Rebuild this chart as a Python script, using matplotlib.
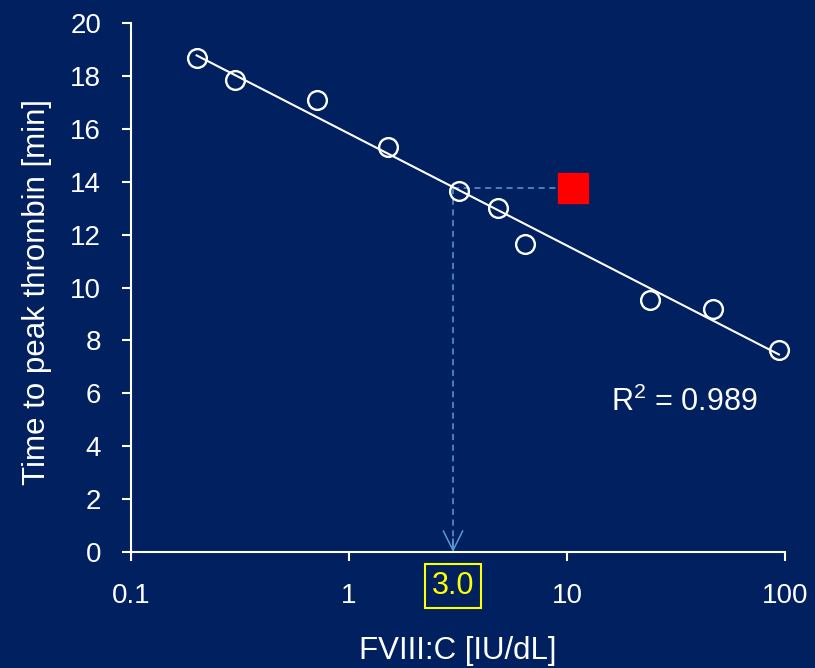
import numpy as np
import matplotlib
matplotlib.use("Agg")
import matplotlib.pyplot as plt

plt.rcParams['font.family'] = ['Liberation Sans', 'DejaVu Sans']
plt.rcParams['mathtext.fontset'] = 'custom'
plt.rcParams['mathtext.rm'] = 'Liberation Sans'

# Calibration series: FVIII:C concentration vs. time to peak thrombin
fviii = [0.20, 0.30, 0.71, 1.51, 3.2, 4.8, 6.4, 24.0, 46.8, 93.8]
ttp = [18.67, 17.84, 17.08, 15.30, 13.64, 12.99, 11.63, 9.51, 9.20, 7.65]

# Patient sample and its read-back concentration
sample_ttp = 13.75
sample_marker_x = 10.7
sample_result = 3.0
r2_text = r"R$^\mathrm{2}$ = 0.989"

bg = '#002060'
fg = 'white'
dash_col = '#5B9BD5'

fig = plt.figure(figsize=(8.15, 6.68), dpi=100, facecolor=bg)
ax = fig.add_axes([131 / 815, 1 - 552 / 668, (785 - 131) / 815, (552 - 23) / 668])
ax.set_facecolor(bg)

# Log-linear regression line across the calibration range
lx = np.log10(fviii)
slope, intercept = np.polyfit(lx, ttp, 1)
xs = np.array([min(fviii), max(fviii)])
ax.plot(xs, slope * np.log10(xs) + intercept, color=fg, lw=1.5, zorder=2,
        clip_on=False)

ax.plot(fviii, ttp, 'o', ms=13.5, mfc='none', mec=fg, mew=1.7, zorder=3,
        clip_on=False)

# Read-back: horizontal from sample to curve, then down to the x axis
ax.plot([sample_result, sample_marker_x], [sample_ttp, sample_ttp],
        ls=(0, (4, 3)), color=dash_col, lw=1.1, zorder=1)
ax.plot([sample_result, sample_result], [sample_ttp, 0],
        ls=(0, (4, 3)), color=dash_col, lw=1.1, zorder=1)
ax.annotate('', xy=(sample_result, 0), xytext=(sample_result, 0.5),
            arrowprops=dict(arrowstyle='->,head_length=0.7,head_width=0.35',
                            color=dash_col, lw=1.1,
                            mutation_scale=20, shrinkA=0, shrinkB=0), zorder=1)
ax.plot([sample_marker_x], [sample_ttp], 's', ms=22, color='#FF0000',
        mec='#FF0000', zorder=4)

ax.set_xscale('log')
ax.set_xlim(0.1, 100)
ax.set_ylim(0, 20)
ax.set_yticks(range(0, 21, 2))
ax.set_xticks([0.1, 1, 10, 100])
ax.set_xticklabels(['0.1', '1', '10', '100'])
ax.minorticks_off()

for s in ['top', 'right']:
    ax.spines[s].set_visible(False)
for s in ['left', 'bottom']:
    ax.spines[s].set_color(fg)
    ax.spines[s].set_linewidth(1.5)

ax.tick_params(axis='both', colors=fg, labelsize=20, width=1.5, length=6.5,
               direction='out')
ax.tick_params(axis='x', pad=16)
ax.tick_params(axis='y', pad=15)

ax.set_xlabel('FVIII:C [IU/dL]', color=fg, fontsize=22.5)
ax.xaxis.set_label_coords((458 - 131) / (785 - 131), -(651 - 552) / (552 - 23))
ax.xaxis.label.set_va('center')
ax.set_ylabel('Time to peak thrombin [min]', color=fg, fontsize=22.5)
ax.yaxis.set_label_coords(-(131 - 37) / (785 - 131), (552 - 292) / (552 - 23))
ax.yaxis.label.set_va('center')

ax.text(sample_result, -1.29, f'{sample_result:.1f}', color='#FFFF00',
        fontsize=22, ha='center', va='center',
        bbox=dict(boxstyle='square,pad=0.22', fc='none', ec='#FFFF00', lw=1.5),
        clip_on=False)

ax.text(34.4, 5.64, r2_text, color=fg, fontsize=22, ha='center', va='center')

fig.savefig('out.png', dpi=100, facecolor=bg)
